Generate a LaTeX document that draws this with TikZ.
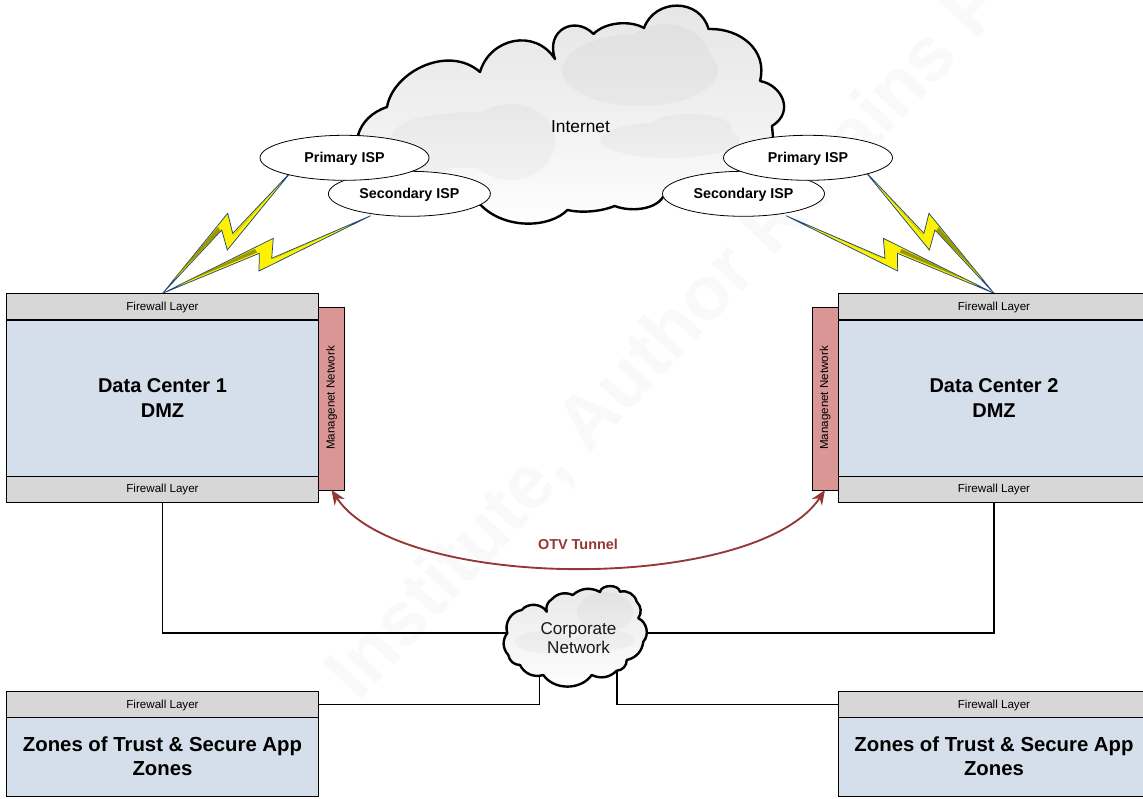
\documentclass[tikz,border=0pt]{standalone}
\usepackage{fontspec}
\setmainfont{Liberation Sans}
\usetikzlibrary{shapes.geometric,arrows.meta}
\definecolor{fwgray}{HTML}{D7D7D7}
\definecolor{dcblue}{HTML}{D4DFEB}
\definecolor{mgred}{HTML}{D99694}
\definecolor{otvred}{HTML}{953735}
\definecolor{boltblue}{HTML}{1F497D}
\definecolor{boltcore}{HTML}{7A7A00}
\definecolor{wmark}{HTML}{F9F9F9}
\tikzset{
  boxbase/.style={draw=black,line width=0.75pt,inner sep=0pt,outer sep=0pt,align=center},
  fwbox/.style={boxbase,fill=fwgray,minimum width=234pt,minimum height=19.5pt},
  fwtext/.style={font=\fontsize{8.7}{10}\selectfont},
  dcbox/.style={boxbase,fill=dcblue,minimum width=234pt,minimum height=117pt,font=\fontsize{15}{18.5}\selectfont\bfseries},
  zonebox/.style={boxbase,fill=dcblue,minimum width=234pt,minimum height=59.25pt,font=\fontsize{15.25}{18}\selectfont\bfseries},
  mgbox/.style={boxbase,fill=mgred,minimum width=19.5pt,minimum height=137.25pt},
  isp/.style={ellipse,draw=black,line width=0.6pt,fill=white,inner sep=0pt,outer sep=0pt,text height=8.5pt,text depth=1.6pt},
  isptext/.style={font=\fontsize{10.7}{12}\selectfont\bfseries},
  wire/.style={draw=black,line width=0.85pt},
  otv/.style={draw=otvred,line width=1.4pt,{Stealth[length=11pt,width=9pt]}-{Stealth[length=11pt,width=9pt]}},
  cloudline/.style={draw=black,line width=1.8pt,line join=round},
  bolt/.style={fill=yellow,draw=boltblue,line width=0.55pt,line join=miter},
  coreline/.style={fill=boltcore,draw=none,fill opacity=0.75},
  puff/.style={fill=black,fill opacity=0.028,draw=none},
}
\newcommand{\boltpair}{%
  \path[bolt] (162.7,293.3) -- (227.7,213.3) -- (232.7,233.3) -- (292.7,170) -- (227.3,250) -- (221.7,230) -- cycle;
  \path[coreline] (280,184) -- (237,231) -- (233,236) -- cycle;
  \path[coreline] (172,281) -- (218,227) -- (220.5,231) -- cycle;
  \path[bolt] (162.7,293.3) -- (273.3,238.3) -- (271.7,258.3) -- (370.7,215.7) -- (259,271) -- (259.3,253.3) -- cycle;
  \path[coreline] (352,224) -- (279,256) -- (274,258.5) -- cycle;
  \path[coreline] (176,286) -- (255,249) -- (257,252.5) -- cycle;
}
\begin{document}
\begin{tikzpicture}[x=0.75pt,y=-0.75pt]
\useasboundingbox (0,0) rectangle (1143,799);
\clip (0,0) rectangle (1143,799);
\fill[white] (0,0) rectangle (1143,799);

% faint watermark
\node[rotate=47,text=wmark,font=\fontsize{57}{64}\selectfont\bfseries,inner sep=0pt,anchor=base west] (wm) at (358,703) {Institute, Author Retains Full};

% Internet cloud
\path[cloudline,top color=gray!20,bottom color=white,middle color=gray!12]
  (358,135) .. controls (362,122) and (372,112) .. (387,107)
  .. controls (393,72) and (448,44) .. (480,72)
  .. controls (490,38) and (535,28) .. (555,59)
  .. controls (545,30) and (575,15) .. (593.5,34)
  .. controls (605,22) and (630,20) .. (644,28)
  .. controls (655,-2) and (700,-2) .. (708.5,29)
  .. controls (740,28) and (768,50) .. (760,81)
  .. controls (782,85) and (795,112) .. (772,126)
  -- (773,137) -- (760,170) -- (700,185) -- (663,197)
  .. controls (655,210) and (630,212) .. (614.6,206)
  .. controls (600,212) and (580,213) .. (567.4,210)
  .. controls (550,228) and (505,230) .. (480.7,205)
  -- (420,185) -- (380,150) -- cycle;
% inner puffs of the Internet cloud
\fill[puff] (640,70) ellipse (78 and 36) (610,72) ellipse (40 and 28) (665,60) ellipse (45 and 36)
  (470,140) ellipse (80 and 28) (510,142) ellipse (45 and 38) (430,145) ellipse (42 and 28)
  (670,140) ellipse (70 and 18) (690,128) ellipse (42 and 14);
\node[font=\fontsize{13}{15}\selectfont] (inet) at (580.5,126.5) {Internet};

% Lightning bolts
\boltpair
\begin{scope}[xshift=867.5pt,xscale=-1]
\boltpair
\end{scope}

% ISP ellipses
\node[isp,isptext,minimum width=121.5pt,minimum height=33.75pt] (sec1) at (409.4,193.8) {Secondary ISP};
\node[isp,isptext,minimum width=126.75pt,minimum height=33.75pt] (pri1) at (344.5,157.8) {Primary ISP};
\node[isp,isptext,minimum width=121.5pt,minimum height=33.75pt] (sec2) at (743.5,193.8) {Secondary ISP};
\node[isp,isptext,minimum width=126.75pt,minimum height=33.75pt] (pri2) at (808,157.8) {Primary ISP};

% Data center 1
\node[mgbox] (mg1) at (331.5,398.5) {};
\node[rotate=90,fwtext] (mg1t) at (331.5,398) {Managenet Network};
\node[dcbox] (dc1) at (162.5,398) {Data Center 1\\DMZ};
\node[fwbox] (fw1t) at (162.5,306.5) {};
\node[fwtext] (fw1tt) at (162.5,307.2) {Firewall Layer};
\node[fwbox] (fw1b) at (162.5,489) {};
\node[fwtext] (fw1bt) at (162.5,489.7) {Firewall Layer};

% Data center 2
\node[mgbox] (mg2) at (825,398.5) {};
\node[rotate=90,fwtext] (mg2t) at (825,398) {Managenet Network};
\node[dcbox] (dc2) at (994,398) {Data Center 2\\DMZ};
\node[fwbox] (fw2t) at (994,306.5) {};
\node[fwtext] (fw2tt) at (994,307.2) {Firewall Layer};
\node[fwbox] (fw2b) at (994,489) {};
\node[fwtext] (fw2bt) at (994,489.7) {Firewall Layer};

% Zones
\node[zonebox] (z1) at (162.5,756.5) {Zones of Trust \& Secure App\\Zones};
\node[fwbox] (fw3) at (162.5,704.5) {};
\node[fwtext] (fw3t) at (162.5,705.2) {Firewall Layer};
\node[zonebox] (z2) at (994,756.5) {Zones of Trust \& Secure App\\Zones};
\node[fwbox] (fw4) at (994,704.5) {};
\node[fwtext] (fw4t) at (994,705.2) {Firewall Layer};

% Corporate cloud anchors
\coordinate (corpW) at (510,633);
\coordinate (corpE) at (643,633);
\coordinate (corpSW) at (539.5,676);
\coordinate (corpSE) at (617,670);

% wires
\draw[wire] (fw1b.south) |- (corpW);
\draw[wire] (fw2b.south) |- (corpE);
\draw[wire] (fw3.east) -| (corpSW);
\draw[wire] (fw4.west) -| (corpSE);

% OTV tunnel
\draw[otv] (mg1.south) .. controls (400,593) and (757,593) .. (mg2.south);
\node[font=\fontsize{10.8}{12}\selectfont\bfseries,text=otvred] (otvl) at (578,544) {OTV Tunnel};

% Corporate cloud
\path[cloudline,top color=gray!18,bottom color=white]
  (507.3,633) to[bend left=50] (521.7,610) to[bend left=55] (546.7,611.7)
  to[bend left=35] (551.7,599.3) to[bend left=35] (572.7,595)
  to[bend left=35] (600,592) to[bend left=80] (620,591.7)
  to[bend left=45] (636.7,601.7) to[bend left=40] (638.3,618.3)
  to[bend left=55] (643.3,641.7) to[bend left=35] (626.7,660)
  to[bend left=45] (616.7,670.7) to[bend left=35] (591.7,675)
  to[bend left=55] (543.3,675) to[bend left=40] (520,665)
  to[bend left=40] (508.3,655) to[bend left=40] cycle;
\fill[puff] (605,612) ellipse (28 and 20) (545,642) ellipse (30 and 11) (605,640) ellipse (30 and 10);
\node[font=\fontsize{12.8}{14.5}\selectfont,align=center,text=black!90] (corp) at (578.5,638.3) {Corporate\\Network};
\end{tikzpicture}
\end{document}
